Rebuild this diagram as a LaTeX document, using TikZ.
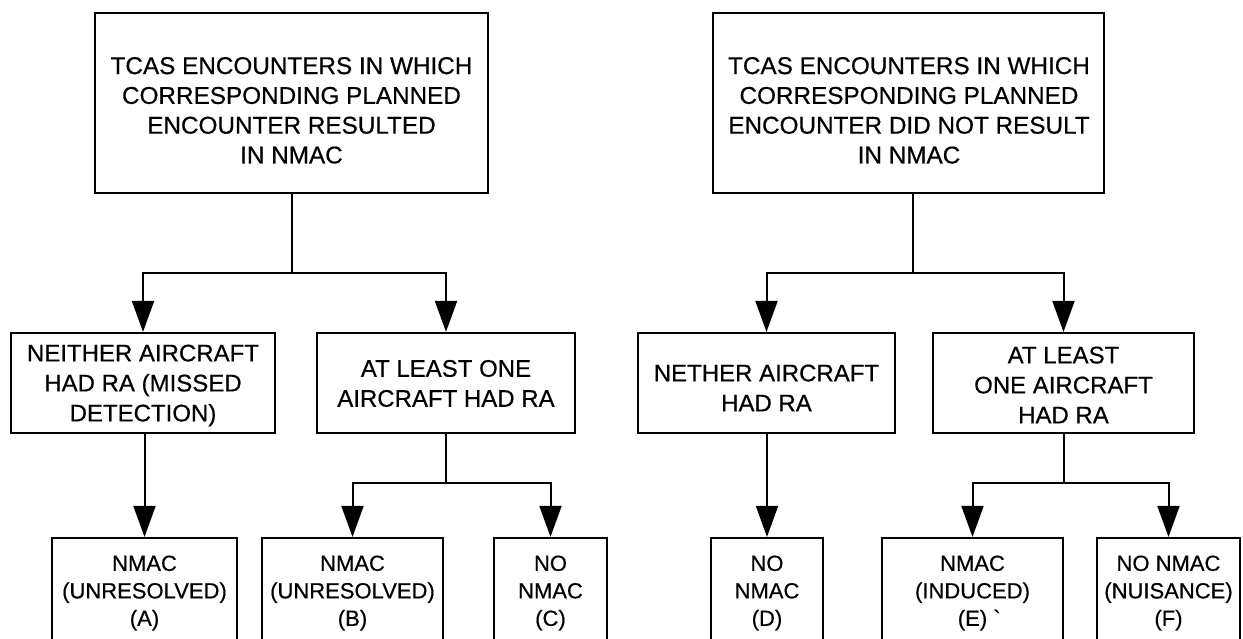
\documentclass[tikz,border=0pt]{standalone}
\usepackage{fontspec}
\setmainfont{Liberation Sans}[FakeBold=0.5]
\usetikzlibrary{arrows.meta}
\begin{document}
\begin{tikzpicture}[x=1pt,y=-1pt,
  box/.style={draw, line width=2.2pt, inner sep=0pt},
  conn/.style={line width=2pt},
  arr/.style={conn, -{Triangle[length=31pt,width=22pt]}},
  bigtxt/.style={font=\fontsize{24.3}{29.8}\selectfont, align=center, inner sep=0pt},
  midtxt/.style={font=\fontsize{24}{30}\selectfont, align=center, inner sep=0pt},
  smtxt/.style={font=\fontsize{22}{27.5}\selectfont, align=center, inner sep=0pt},
]
\useasboundingbox (0,0) rectangle (1243,639);

% boxes
\node[box, minimum width=393pt, minimum height=180pt] (top1) at (291.5,103) {};
\node[box, minimum width=391pt, minimum height=180pt] (top2) at (908.5,103) {};
\node[box, minimum width=264pt, minimum height=100pt] (m1) at (143,383) {};
\node[box, minimum width=258pt, minimum height=100pt] (m2) at (446,383) {};
\node[box, minimum width=257pt, minimum height=100pt] (m3) at (766.5,383) {};
\node[box, minimum width=261pt, minimum height=100pt] (m4) at (1063.5,383) {};
\node[box, minimum width=185pt, minimum height=102pt] (bA) at (144.5,589) {};
\node[box, minimum width=181pt, minimum height=102pt] (bB) at (352.5,589) {};
\node[box, minimum width=113pt, minimum height=102pt] (bC) at (550.5,589) {};
\node[box, minimum width=112pt, minimum height=102pt] (bD) at (767,589) {};
\node[box, minimum width=181pt, minimum height=102pt] (bE) at (972.5,589) {};
\node[box, minimum width=143pt, minimum height=102pt] (bF) at (1168.5,589) {};

% texts
\node[bigtxt] (t1) at (291.5,110.4) {TCAS ENCOUNTERS IN WHICH\\CORRESPONDING PLANNED\\ENCOUNTER RESULTED\\IN NMAC};
\node[bigtxt] (t2) at (909,110.4) {TCAS ENCOUNTERS IN WHICH\\CORRESPONDING PLANNED\\ENCOUNTER DID NOT RESULT\\IN NMAC};
\node[midtxt] (t3) at (143,385.5) {NEITHER AIRCRAFT\\HAD RA (MISSED\\DETECTION)};
\node[midtxt] (t4) at (446,383.5) {AT LEAST ONE\\AIRCRAFT HAD RA};
\node[midtxt] (t5) at (766.5,388) {NETHER AIRCRAFT\\HAD RA};
\node[midtxt] (t6) at (1063.5,385) {AT LEAST\\ONE AIRCRAFT\\HAD RA};
\node[smtxt] (tA) at (144.5,593) {NMAC\\(UNRESOLVED)\\(A)};
\node[smtxt] (tB) at (352.5,593) {NMAC\\(UNRESOLVED)\\(B)};
\node[smtxt] (tC) at (550.5,593) {NO\\NMAC\\(C)};
\node[smtxt] (tD) at (767,593) {NO\\NMAC\\(D)};
\node[smtxt] (tE) at (972.5,593) {NMAC\\(INDUCED)\\(E)\rlap{\ \textasciigrave}};
\node[smtxt] (tF) at (1168.5,593) {NO NMAC\\(NUISANCE)\\(F)};

% junctions
\coordinate (j1) at (292,273);
\coordinate (j2) at (913,273);
\coordinate (j3) at (446,483);
\coordinate (j4) at (1064,483);

% connectors
\draw[conn] (top1.south -| j1) -- (j1);
\draw[arr] (j1) -| (m1.north);
\draw[arr] (j1) -| (m2.north);
\draw[conn] (top2.south -| j2) -- (j2);
\draw[arr] (j2) -| (m3.north);
\draw[arr] (j2) -| (m4.north);

\draw[arr] (m1.south -| bA.north) -- (bA.north);
\draw[conn] (m2.south -| j3) -- (j3);
\draw[arr] (j3) -| (bB.north);
\draw[arr] (j3) -| (bC.north);
\draw[arr] (m3.south -| bD.north) -- (bD.north);
\draw[conn] (m4.south -| j4) -- (j4);
\draw[arr] (j4) -| (bE.north);
\draw[arr] (j4) -| (bF.north);
\end{tikzpicture}
\end{document}
